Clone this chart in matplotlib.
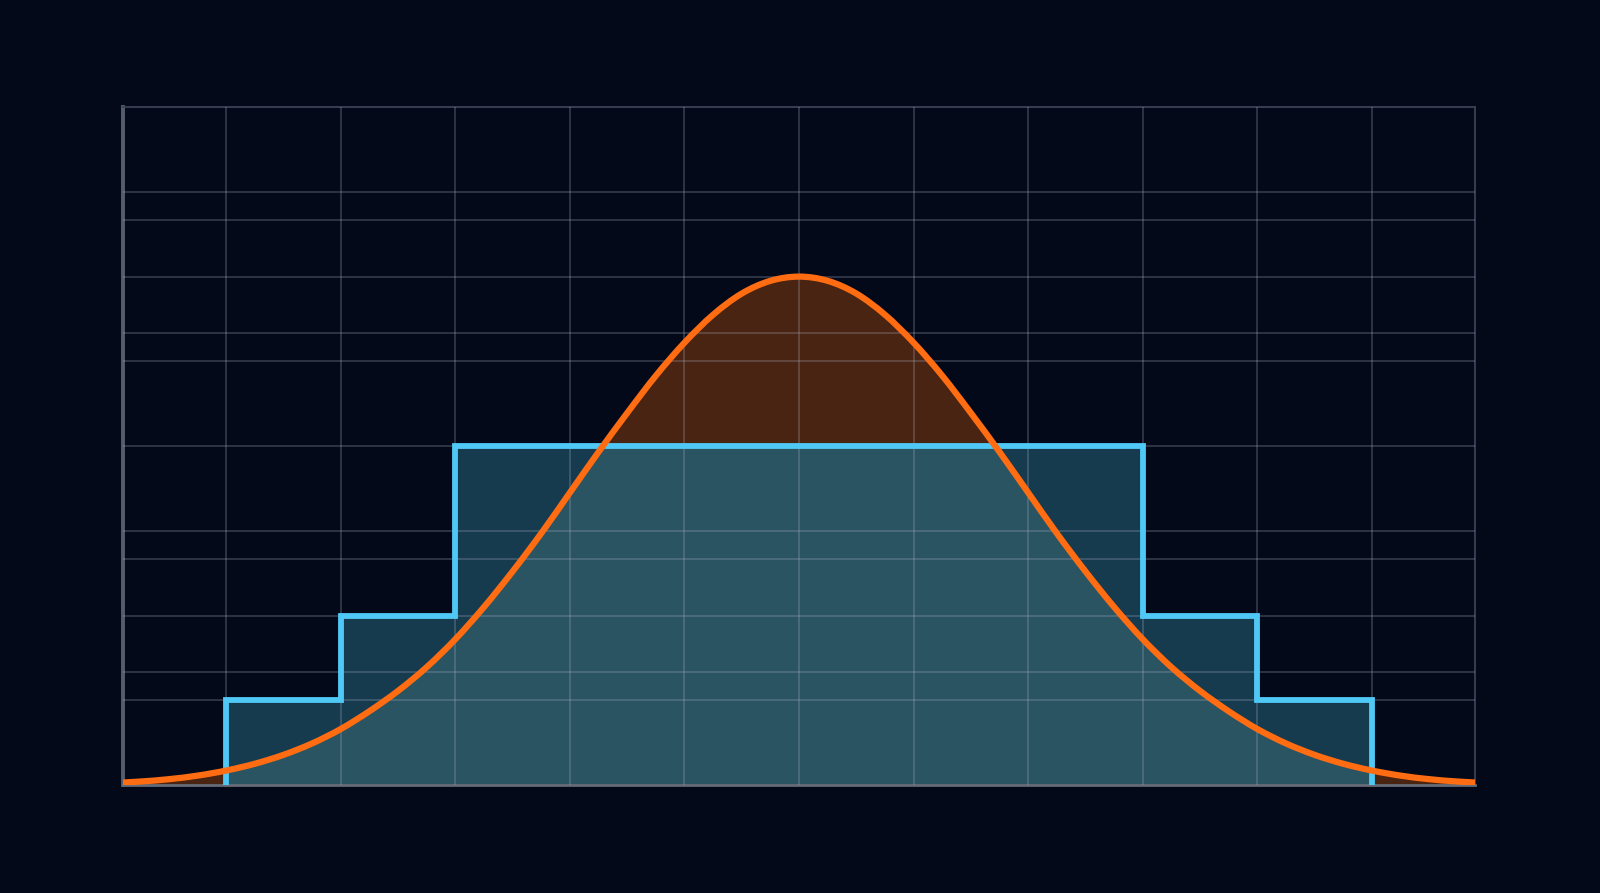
import matplotlib.pyplot as plt
import numpy as np
from matplotlib.path import Path
from matplotlib.patches import PathPatch

# histogram (step) data
bin_edges = [-5, -4, -3, 3, 4, 5]
bin_heights = [1, 2, 4, 2, 1]

# bell curve, every 0.25 along x
curve_x = np.linspace(-6, 6, 49)
curve_y = [0.022, 0.04, 0.068, 0.11, 0.17, 0.25, 0.355, 0.49,
           0.66, 0.87, 1.11, 1.39, 1.72, 2.10, 2.52, 2.97,
           3.45, 3.93, 4.39, 4.83, 5.22, 5.55, 5.80, 5.95,
           6.00,
           5.95, 5.80, 5.55, 5.22, 4.83, 4.39, 3.93, 3.45,
           2.97, 2.52, 2.10, 1.72, 1.39, 1.11, 0.87, 0.66,
           0.49, 0.355, 0.25, 0.17, 0.11, 0.068, 0.04, 0.022]


def smooth_path(xs, ys):
    # catmull-rom through the points, written as cubic bezier segments
    pts = np.column_stack([xs, ys])
    n = len(pts)
    verts = [pts[0]]
    codes = [Path.MOVETO]
    for i in range(n - 1):
        p0 = pts[max(i - 1, 0)]
        p1 = pts[i]
        p2 = pts[i + 1]
        p3 = pts[min(i + 2, n - 1)]
        verts += [p1 + (p2 - p0) / 6, p2 - (p3 - p1) / 6, p2]
        codes += [Path.CURVE4] * 3
    return Path(verts, codes)


bg = '#030919'
fig = plt.figure(figsize=(16, 8.93), dpi=100, facecolor=bg)
ax = fig.add_axes([0.0769, 0.121, 0.845, 0.759])
ax.set_facecolor(bg)

# brown where the curve sits above the bars
ax.fill_between(curve_x, curve_y, 0, color='#4a2412', lw=0, zorder=1)
# bar fill
hist_fill = ax.stairs(bin_heights, bin_edges, fill=True, color='#163a4e', lw=0, zorder=1.1)
# lighter teal where curve and bars overlap
overlap = ax.fill_between(curve_x, curve_y, 0, color='#2a5462', lw=0, zorder=1.2)
overlap.set_clip_path(hist_fill)

ax.stairs(bin_heights, bin_edges, color='#4fc8f5', lw=4.2, baseline=0, zorder=3)
curve = PathPatch(smooth_path(curve_x, curve_y), fill=False, edgecolor='#ff6c12',
                  lw=4.5, joinstyle='round', capstyle='butt', zorder=4)
ax.add_patch(curve)

ax.set_xlim(-5.9, 5.9)
ax.set_ylim(0, 8)

# grid
ax.set_xticks(np.arange(-5, 6))
ax.set_yticks(np.arange(1, 8))
ax.set_yticks([4 / 3, 8 / 3, 16 / 3, 20 / 3], minor=True)
ax.tick_params(which='both', length=0, labelleft=False, labelbottom=False)
ax.set_axisbelow(False)
ax.grid(True, which='both', color='#a6aec4', alpha=0.28, lw=1.3)

for side in ['top', 'right']:
    ax.spines[side].set_color('#3a4256')
    ax.spines[side].set_linewidth(1.3)
ax.spines['left'].set_color('#555c6c')
ax.spines['left'].set_linewidth(2.8)
ax.spines['bottom'].set_color('#666b78')
ax.spines['bottom'].set_linewidth(2.0)

plt.savefig('out.png', dpi=100, facecolor=bg)
